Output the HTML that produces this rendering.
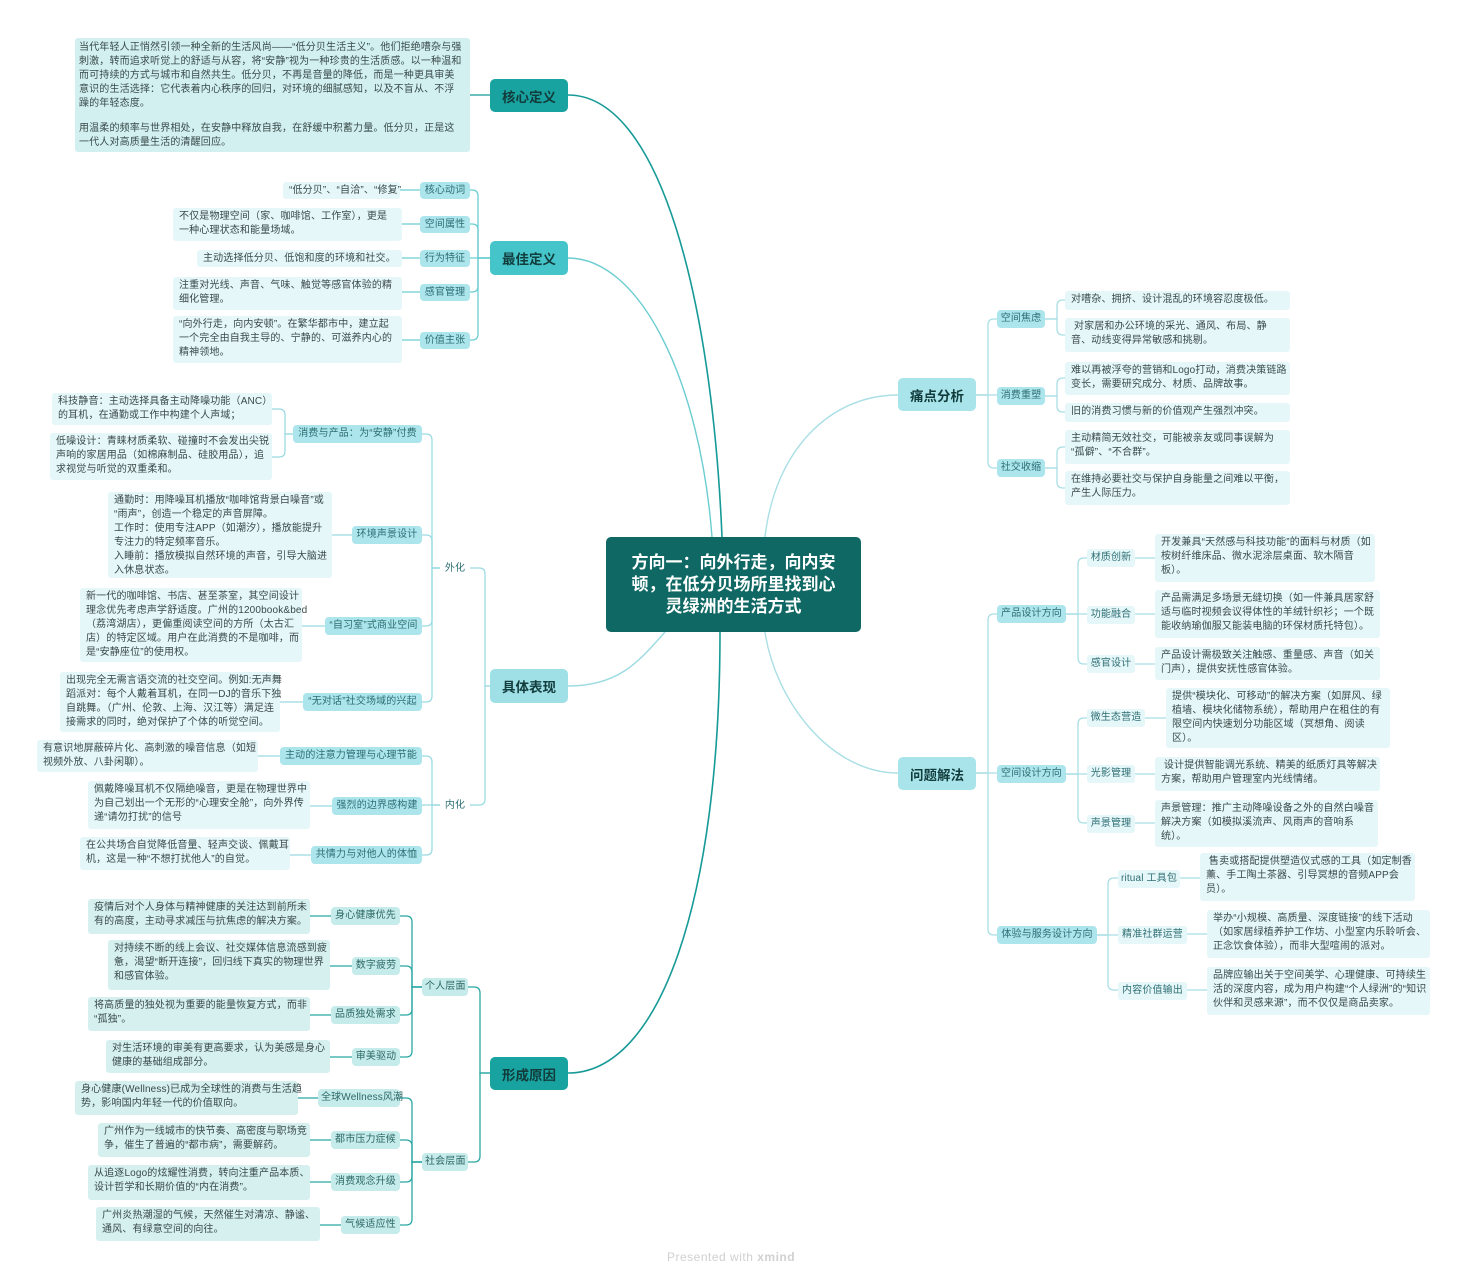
<!DOCTYPE html>
<html><head><meta charset="utf-8">
<style>
html,body{margin:0;padding:0;background:#fff;}
body{width:1467px;height:1280px;position:relative;overflow:hidden;font-family:"Liberation Sans","Noto Sans CJK SC",sans-serif;}
.b{position:absolute;box-sizing:border-box;font-size:10px;line-height:14px;color:#3a4a4a;white-space:nowrap;letter-spacing:0.15px;border-radius:3px;}
.lf{background:#e6f7f9;padding:2px 6px;}
.lf2{background:#d6f0f0;padding:2px 6px;}
.m{background:#ace5ec;color:#2d6e73;text-align:center;padding:2px 3px;border-radius:4px;}
.m2{background:#c5ebea;color:#2d6866;text-align:center;padding:2px 3px;border-radius:4px;}
.t{color:#2d6e73;text-align:center;padding:2px 3px;background:#e6f7f9;}
.L{position:absolute;box-sizing:border-box;font-size:13.5px;font-weight:bold;color:#123c3c;display:flex;align-items:center;justify-content:center;border-radius:5px;}
svg{position:absolute;left:0;top:0;}
</style></head><body>
<svg id="s" width="1467" height="1280" fill="none" stroke-width="1.3"></svg>

<!-- central -->
<div class="L" style="left:606px;top:537px;width:255px;height:95px;background:#0f6863;color:#fff;font-size:17px;line-height:22px;text-align:center;">方向一：向外行走，向内安<br>顿，在低分贝场所里找到心<br>灵绿洲的生活方式</div>

<!-- L1 -->
<div class="L" style="left:490px;top:79px;width:78px;height:33px;background:#19a3a0;">核心定义</div>
<div class="L" style="left:490px;top:241px;width:78px;height:34px;background:#45c5ca;">最佳定义</div>
<div class="L" style="left:490px;top:669px;width:78px;height:34px;background:#9fdfe6;">具体表现</div>
<div class="L" style="left:490px;top:1057px;width:78px;height:33px;background:#19a3a0;">形成原因</div>
<div class="L" style="left:898px;top:378px;width:78px;height:33px;background:#a8e4ea;">痛点分析</div>
<div class="L" style="left:898px;top:757px;width:78px;height:33px;background:#a8e4ea;">问题解法</div>

<!-- core -->
<div class="b" style="left:75px;top:38px;width:395px;height:114px;background:#d2f0f0;padding:3px 4px;">当代年轻人正悄然引领一种全新的生活风尚——“低分贝生活主义”。他们拒绝嘈杂与强<br>刺激，转而追求听觉上的舒适与从容，将“安静”视为一种珍贵的生活质感。以一种温和<br>而可持续的方式与城市和自然共生。低分贝，不再是音量的降低，而是一种更具审美<br>意识的生活选择：它代表着内心秩序的回归，对环境的细腻感知，以及不盲从、不浮<br>躁的年轻态度。<br><div style="height:11px"></div>用温柔的频率与世界相处，在安静中释放自我，在舒缓中积蓄力量。低分贝，正是这<br>一代人对高质量生活的清醒回应。</div>

<!-- 最佳定义 -->
<div class="b m" style="left:420px;top:182px;width:50px;height:17px;">核心动词</div>
<div class="b lf" style="left:283px;top:182px;width:117px;height:17px;">“低分贝”、“自洽”、“修复”</div>
<div class="b m" style="left:420px;top:216px;width:50px;height:17px;">空间属性</div>
<div class="b lf" style="left:173px;top:208px;width:229px;height:33px;">不仅是物理空间（家、咖啡馆、工作室），更是<br>一种心理状态和能量场域。</div>
<div class="b m" style="left:420px;top:250px;width:50px;height:17px;">行为特征</div>
<div class="b lf" style="left:197px;top:250px;width:205px;height:17px;">主动选择低分贝、低饱和度的环境和社交。</div>
<div class="b m" style="left:420px;top:284px;width:50px;height:17px;">感官管理</div>
<div class="b lf" style="left:173px;top:277px;width:229px;height:33px;">注重对光线、声音、气味、触觉等感官体验的精<br>细化管理。</div>
<div class="b m" style="left:420px;top:332px;width:50px;height:17px;">价值主张</div>
<div class="b lf" style="left:173px;top:316px;width:229px;height:47px;">“向外行走，向内安顿”。在繁华都市中，建立起<br>一个完全由自我主导的、宁静的、可滋养内心的<br>精神领地。</div>

<!-- 具体表现 -->
<div class="b t" style="left:440px;top:560px;width:30px;height:17px;background:#fff;">外化</div>
<div class="b t" style="left:440px;top:797px;width:30px;height:17px;background:#fff;">内化</div>
<div class="b m" style="left:293px;top:425px;width:129px;height:18px;">消费与产品：为“安静”付费</div>
<div class="b lf" style="left:52px;top:393px;width:220px;height:32px;">科技静音：主动选择具备主动降噪功能（ANC）<br>的耳机，在通勤或工作中构建个人声域；</div>
<div class="b lf" style="left:50px;top:433px;width:222px;height:47px;">低噪设计：青睐材质柔软、碰撞时不会发出尖锐<br>声响的家居用品（如棉麻制品、硅胶用品），追<br>求视觉与听觉的双重柔和。</div>
<div class="b m" style="left:352px;top:526px;width:70px;height:18px;">环境声景设计</div>
<div class="b lf" style="left:108px;top:492px;width:224px;height:86px;">通勤时：用降噪耳机播放“咖啡馆背景白噪音”或<br>“雨声”，创造一个稳定的声音屏障。<br>工作时：使用专注APP（如潮汐），播放能提升<br>专注力的特定频率音乐。<br>入睡前：播放模拟自然环境的声音，引导大脑进<br>入休息状态。</div>
<div class="b m" style="left:325px;top:617px;width:97px;height:18px;">“自习室”式商业空间</div>
<div class="b lf" style="left:80px;top:588px;width:222px;height:74px;">新一代的咖啡馆、书店、甚至茶室，其空间设计<br>理念优先考虑声学舒适度。广州的1200book&amp;bed<br>（荔湾湖店），更偏重阅读空间的方所（太古汇<br>店）的特定区域。用户在此消费的不是咖啡，而<br>是“安静座位”的使用权。</div>
<div class="b m" style="left:303px;top:693px;width:119px;height:18px;">“无对话”社交场域的兴起</div>
<div class="b lf" style="left:60px;top:672px;width:220px;height:60px;">出现完全无需言语交流的社交空间。例如:无声舞<br>蹈派对：每个人戴着耳机，在同一DJ的音乐下独<br>自跳舞。（广州、伦敦、上海、汉江等）满足连<br>接需求的同时，绝对保护了个体的听觉空间。</div>
<div class="b m" style="left:280px;top:747px;width:142px;height:18px;">主动的注意力管理与心理节能</div>
<div class="b lf" style="left:37px;top:740px;width:221px;height:32px;">有意识地屏蔽碎片化、高刺激的噪音信息（如短<br>视频外放、八卦闲聊）。</div>
<div class="b m" style="left:332px;top:797px;width:90px;height:18px;">强烈的边界感构建</div>
<div class="b lf" style="left:88px;top:781px;width:222px;height:48px;">佩戴降噪耳机不仅隔绝噪音，更是在物理世界中<br>为自己划出一个无形的“心理安全舱”，向外界传<br>递“请勿打扰”的信号</div>
<div class="b m" style="left:311px;top:846px;width:111px;height:18px;">共情力与对他人的体恤</div>
<div class="b lf" style="left:80px;top:837px;width:210px;height:33px;">在公共场合自觉降低音量、轻声交谈、佩戴耳<br>机，这是一种“不想打扰他人”的自觉。</div>

<!-- 形成原因 -->
<div class="b m2" style="left:422px;top:978px;width:46px;height:18px;">个人层面</div>
<div class="b m2" style="left:422px;top:1153px;width:46px;height:18px;">社会层面</div>
<div class="b m2" style="left:331px;top:907px;width:69px;height:18px;">身心健康优先</div>
<div class="b lf2" style="left:88px;top:899px;width:222px;height:35px;">疫情后对个人身体与精神健康的关注达到前所未<br>有的高度，主动寻求减压与抗焦虑的解决方案。</div>
<div class="b m2" style="left:352px;top:957px;width:48px;height:18px;">数字疲劳</div>
<div class="b lf2" style="left:108px;top:940px;width:222px;height:50px;">对持续不断的线上会议、社交媒体信息流感到疲<br>惫，渴望“断开连接”，回归线下真实的物理世界<br>和感官体验。</div>
<div class="b m2" style="left:331px;top:1006px;width:69px;height:18px;">品质独处需求</div>
<div class="b lf2" style="left:88px;top:997px;width:222px;height:34px;">将高质量的独处视为重要的能量恢复方式，而非<br>“孤独”。</div>
<div class="b m2" style="left:352px;top:1048px;width:48px;height:18px;">审美驱动</div>
<div class="b lf2" style="left:106px;top:1040px;width:224px;height:33px;">对生活环境的审美有更高要求，认为美感是身心<br>健康的基础组成部分。</div>
<div class="b m2" style="left:318px;top:1089px;width:82px;height:18px;">全球Wellness风潮</div>
<div class="b lf2" style="left:75px;top:1081px;width:223px;height:34px;">身心健康(Wellness)已成为全球性的消费与生活趋<br>势，影响国内年轻一代的价值取向。</div>
<div class="b m2" style="left:331px;top:1131px;width:69px;height:18px;">都市压力症候</div>
<div class="b lf2" style="left:98px;top:1123px;width:212px;height:34px;">广州作为一线城市的快节奏、高密度与职场竞<br>争，催生了普遍的“都市病”，需要解药。</div>
<div class="b m2" style="left:331px;top:1173px;width:69px;height:18px;">消费观念升级</div>
<div class="b lf2" style="left:88px;top:1165px;width:222px;height:35px;">从追逐Logo的炫耀性消费，转向注重产品本质、<br>设计哲学和长期价值的“内在消费”。</div>
<div class="b m2" style="left:341px;top:1216px;width:59px;height:18px;">气候适应性</div>
<div class="b lf2" style="left:96px;top:1207px;width:224px;height:34px;">广州炎热潮湿的气候，天然催生对清凉、静谧、<br>通风、有绿意空间的向往。</div>

<!-- 痛点分析 -->
<div class="b m" style="left:997px;top:310px;width:48px;height:18px;">空间焦虑</div>
<div class="b lf" style="left:1065px;top:291px;width:225px;height:19px;">对嘈杂、拥挤、设计混乱的环境容忍度极低。</div>
<div class="b lf" style="left:1065px;top:318px;width:225px;height:34px;">&nbsp;对家居和办公环境的采光、通风、布局、静<br>音、动线变得异常敏感和挑剔。</div>
<div class="b m" style="left:997px;top:387px;width:48px;height:18px;">消费重塑</div>
<div class="b lf" style="left:1065px;top:362px;width:225px;height:33px;">难以再被浮夸的营销和Logo打动，消费决策链路<br>变长，需要研究成分、材质、品牌故事。</div>
<div class="b lf" style="left:1065px;top:403px;width:225px;height:19px;">旧的消费习惯与新的价值观产生强烈冲突。</div>
<div class="b m" style="left:997px;top:459px;width:48px;height:18px;">社交收缩</div>
<div class="b lf" style="left:1065px;top:430px;width:225px;height:34px;">主动精简无效社交，可能被亲友或同事误解为<br>“孤僻”、“不合群”。</div>
<div class="b lf" style="left:1065px;top:471px;width:225px;height:34px;">在维持必要社交与保护自身能量之间难以平衡，<br>产生人际压力。</div>

<!-- 问题解法 -->
<div class="b m" style="left:997px;top:605px;width:69px;height:18px;">产品设计方向</div>
<div class="b t" style="left:1087px;top:549px;width:48px;height:18px;">材质创新</div>
<div class="b lf" style="left:1155px;top:534px;width:220px;height:48px;">开发兼具“天然感与科技功能”的面料与材质（如<br>桉树纤维床品、微水泥涂层桌面、软木隔音<br>板）。</div>
<div class="b t" style="left:1087px;top:606px;width:48px;height:18px;">功能融合</div>
<div class="b lf" style="left:1155px;top:590px;width:225px;height:48px;">产品需满足多场景无缝切换（如一件兼具居家舒<br>适与临时视频会议得体性的羊绒针织衫；一个既<br>能收纳瑜伽服又能装电脑的环保材质托特包）。</div>
<div class="b t" style="left:1087px;top:655px;width:48px;height:18px;">感官设计</div>
<div class="b lf" style="left:1155px;top:647px;width:225px;height:33px;">产品设计需极致关注触感、重量感、声音（如关<br>门声），提供安抚性感官体验。</div>

<div class="b m" style="left:997px;top:765px;width:69px;height:18px;">空间设计方向</div>
<div class="b t" style="left:1087px;top:709px;width:58px;height:18px;">微生态营造</div>
<div class="b lf" style="left:1166px;top:688px;width:224px;height:60px;">提供“模块化、可移动”的解决方案（如屏风、绿<br>植墙、模块化储物系统），帮助用户在租住的有<br>限空间内快速划分功能区域（冥想角、阅读<br>区）。</div>
<div class="b t" style="left:1087px;top:765px;width:48px;height:18px;">光影管理</div>
<div class="b lf" style="left:1155px;top:757px;width:225px;height:34px;">&nbsp;设计提供智能调光系统、精美的纸质灯具等解决<br>方案，帮助用户管理室内光线情绪。</div>
<div class="b t" style="left:1087px;top:815px;width:48px;height:18px;">声景管理</div>
<div class="b lf" style="left:1155px;top:800px;width:223px;height:47px;">声景管理：推广主动降噪设备之外的自然白噪音<br>解决方案（如模拟溪流声、风雨声的音响系<br>统）。</div>

<div class="b m" style="left:997px;top:926px;width:100px;height:18px;">体验与服务设计方向</div>
<div class="b t" style="left:1118px;top:870px;width:62px;height:18px;">ritual 工具包</div>
<div class="b lf" style="left:1200px;top:853px;width:215px;height:48px;">&nbsp;售卖或搭配提供塑造仪式感的工具（如定制香<br>薰、手工陶土茶器、引导冥想的音频APP会<br>员）。</div>
<div class="b t" style="left:1118px;top:926px;width:69px;height:18px;">精准社群运营</div>
<div class="b lf" style="left:1207px;top:910px;width:223px;height:48px;">举办“小规模、高质量、深度链接”的线下活动<br>（如家居绿植养护工作坊、小型室内乐聆听会、<br>正念饮食体验），而非大型喧闹的派对。</div>
<div class="b t" style="left:1118px;top:982px;width:69px;height:18px;">内容价值输出</div>
<div class="b lf" style="left:1207px;top:967px;width:223px;height:48px;">品牌应输出关于空间美学、心理健康、可持续生<br>活的深度内容，成为用户构建“个人绿洲”的“知识<br>伙伴和灵感来源”，而不仅仅是商品卖家。</div>

<div style="position:absolute;left:667px;top:1250px;font-size:12px;color:#d0d0d0;letter-spacing:0.5px;">Presented with <b>xmind</b></div>

<script>
var s=document.getElementById('s'),h='';
function P(d,c,w){h+='<path d="'+d+'" stroke="'+c+'"'+(w?' stroke-width="'+w+'"':'')+'/>';}
function E(x1,y1,bx,x2,ys,c){ys.forEach(function(y2){
 if(Math.abs(y2-y1)<2){P('M'+x1+' '+y1+'H'+x2,c);return;}
 var d=x2>bx?1:-1,sg=y2>y1?1:-1,r=6;
 P('M'+x1+' '+y1+'H'+bx+'V'+(y2-sg*r)+'Q'+bx+' '+y2+' '+(bx+d*r)+' '+y2+'H'+x2,c);});}
function S(x1,x2,y,c){P('M'+x1+' '+y+'H'+x2,c);}
// main curves
P('M722 537C712 300 660 95 568 95','#169a97',1.6);
P('M712 537C700 380 640 258 568 258','#6ccdd1',1.4);
P('M665 632C640 660 620 686 568 686','#9bdbe1',1.4);
P('M720 632C720 900 660 1073 568 1073','#169a97',1.6);
P('M765 537C775 450 830 395 898 395','#a9dfe5',1.4);
P('M765 632C775 700 830 773 898 773','#a9dfe5',1.4);
var a='#6ccdd1',b='#9bdbe1',c='#2aa7a3',d='#a9dfe5';
S(490,470,95,'#169a97');
E(490,258,478,470,[190,224,258,292,340],a);
S(420,400,190,a);S(420,402,224,a);S(420,402,258,a);S(420,402,292,a);S(420,402,340,a);
E(490,686,485,470,[568,805],b);
E(440,568,432,422,[434,535,626,702],b);
E(440,805,432,422,[756,806,855],b);
E(293,434,285,272,[409,457],b);
S(352,332,535,b);S(325,302,626,b);S(303,280,702,b);S(280,258,756,b);S(332,310,806,b);S(311,290,855,b);
E(490,1073,480,468,[987,1162],c);
E(422,987,412,400,[916,966,1015,1057],c);
E(422,1162,412,400,[1098,1140,1182,1225],c);
S(331,310,916,c);S(352,330,966,c);S(331,310,1015,c);S(352,330,1057,c);
S(318,298,1098,c);S(331,310,1140,c);S(331,310,1182,c);S(341,320,1225,c);
E(976,395,988,997,[319,396,468],d);
E(1045,319,1057,1065,[300,335],d);
E(1045,396,1057,1065,[378,412],d);
E(1045,468,1057,1065,[447,488],d);
E(976,773,988,997,[614,774,935],d);
E(1066,614,1078,1087,[558,614,664],d);
E(1066,774,1078,1087,[718,774,823],d);
E(1097,935,1108,1118,[878,934,990],d);
S(1135,1155,558,d);S(1135,1155,614,d);S(1135,1155,664,d);
S(1145,1166,718,d);S(1135,1155,774,d);S(1135,1155,823,d);
S(1180,1200,878,d);S(1187,1207,934,d);S(1187,1207,990,d);
s.innerHTML=h;
</script>
</body></html>
